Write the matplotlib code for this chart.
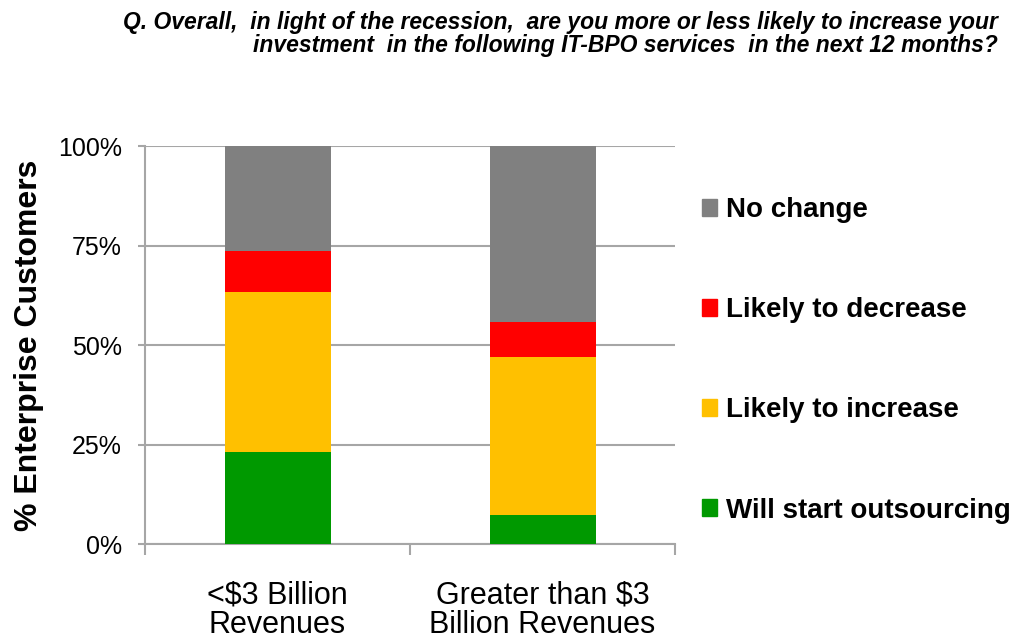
import numpy as np
import matplotlib.pyplot as plt
import matplotlib.patches as mpatches

plt.rcParams['font.family'] = ['Liberation Sans', 'DejaVu Sans']

categories = ['<$3 Billion\nRevenues', 'Greater than $3\nBillion Revenues']
series_names = ['Will start outsourcing', 'Likely to increase', 'Likely to decrease', 'No change']
will_start = [23.2, 7.3]
likely_increase = [40.2, 39.7]
likely_decrease = [10.1, 8.8]
no_change = [26.5, 44.2]
colors = ['#009900', '#FFC000', '#FF0000', '#808080']
y_ticks = [0, 25, 50, 75, 100]
y_tick_labels = ['0%', '25%', '50%', '75%', '100%']
title = ('Q. Overall,  in light of the recession,  are you more or less likely to increase your\n'
         'investment  in the following IT-BPO services  in the next 12 months?')

fig = plt.figure(figsize=(10.19, 6.41), dpi=100)
ax = fig.add_axes([145 / 1019, 1 - 544 / 641, 530 / 1019, 398 / 641])

x = np.arange(len(categories))
bottom = np.zeros(len(categories))
series = [will_start, likely_increase, likely_decrease, no_change]
for vals, col in zip(series, colors):
    ax.bar(x, vals, width=0.4, bottom=bottom, color=col, zorder=3)
    bottom += np.array(vals)

ax.set_xlim(-0.5, 1.5)
ax.set_ylim(0, 100)
ax.set_yticks(y_ticks)
ax.set_yticklabels(y_tick_labels, fontsize=18)
ax.set_xticks(x)
ax.set_xticklabels(categories, fontsize=22, linespacing=0.98)
ax.tick_params(axis='x', length=0, pad=26)
ax.set_xticks([-0.5, 0.5, 1.5], minor=True)
ax.tick_params(axis='x', which='minor', length=8, width=1.5, color='#A6A6A6', direction='out')
ax.tick_params(axis='y', length=5, width=1.5, color='#A6A6A6', pad=11.5)

ax.grid(axis='y', color='#A6A6A6', linewidth=1.5, zorder=0)
for s in ['top', 'right']:
    ax.spines[s].set_visible(False)
for s in ['left', 'bottom']:
    ax.spines[s].set_color('#A6A6A6')
    ax.spines[s].set_linewidth(1.5)

ax.set_ylabel('% Enterprise Customers', fontsize=23, fontweight='bold')
ax.yaxis.set_label_coords(-101 / 530, 0.5)

handles = [mpatches.Patch(color=c, label=n) for c, n in zip(colors, series_names)][::-1]
fig.legend(handles=handles, loc='upper left', bbox_to_anchor=(691 / 1019, 1 - 186 / 641),
           frameon=False, prop={'size': 20, 'weight': 'bold'}, handlelength=0.55,
           handleheight=0.55, handletextpad=0.3, labelspacing=2.67, borderaxespad=0)

fig.text(998 / 1019, 1 - 11 / 641, title, ha='right', va='top', fontsize=16.5,
         fontstyle='italic', fontweight='bold', multialignment='right', linespacing=1.0)

fig.savefig('out.png', dpi=100)
